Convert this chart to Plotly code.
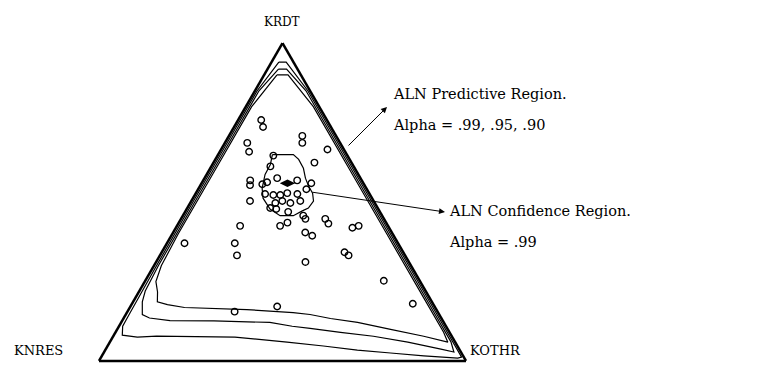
import plotly.graph_objects as go

# observed compositions (KRDT, KOTHR); KNRES = 1 - KRDT - KOTHR
krdt = [0.758, 0.736, 0.686, 0.658, 0.708, 0.686, 0.665, 0.624, 0.646, 0.612,
        0.568, 0.553, 0.556, 0.562, 0.575, 0.568, 0.559, 0.540, 0.525, 0.522,
        0.522, 0.528, 0.525, 0.497, 0.503, 0.497, 0.503, 0.503, 0.481, 0.478,
        0.469, 0.457, 0.447, 0.447, 0.432, 0.425, 0.425, 0.435, 0.404, 0.394,
        0.419, 0.425, 0.370, 0.370, 0.332, 0.342, 0.332, 0.311, 0.252, 0.180,
        0.155, 0.171]
kothr = [0.063, 0.079, 0.061, 0.080, 0.200, 0.211, 0.290, 0.275, 0.152, 0.161,
         0.128, 0.135, 0.167, 0.177, 0.198, 0.256, 0.299, 0.295, 0.190, 0.214,
         0.233, 0.249, 0.278, 0.232, 0.248, 0.273, 0.297, 0.160, 0.226, 0.244,
         0.281, 0.328, 0.339, 0.393, 0.409, 0.172, 0.281, 0.296, 0.360, 0.384,
         0.481, 0.495, 0.048, 0.185, 0.210, 0.498, 0.514, 0.407, 0.650, 0.765,
         0.292, 0.400]

centre_krdt = [0.559]
centre_kothr = [0.234]

# ALN predictive regions, alpha = .99, .95, .90
pred99_krdt = [0.94, 0.85, 0.70, 0.50, 0.30, 0.15, 0.109, 0.081, 0.075, 0.078,
               0.075, 0.059, 0.047, 0.034, 0.025, 0.016, 0.009, 0.012, 0.15, 0.30,
               0.50, 0.70, 0.85, 0.94, 0.94]
pred99_kothr = [0.020, 0.006, 0.006, 0.006, 0.007, 0.009, 0.010, 0.023, 0.067, 0.118,
                0.333, 0.483, 0.588, 0.687, 0.782, 0.877, 0.973, 0.982, 0.844, 0.694,
                0.494, 0.294, 0.144, 0.040, 0.020]

pred95_krdt = [0.918, 0.85, 0.70, 0.50, 0.30, 0.22, 0.186, 0.146, 0.135, 0.127,
               0.126, 0.121, 0.109, 0.1025, 0.090, 0.0776, 0.059, 0.0373, 0.028, 0.06,
               0.15, 0.30, 0.50, 0.70, 0.85, 0.918, 0.918]
pred95_kothr = [0.030, 0.011, 0.011, 0.011, 0.012, 0.016, 0.025, 0.045, 0.070, 0.130,
                0.250, 0.405, 0.472, 0.524, 0.613, 0.709, 0.812, 0.913, 0.953, 0.929,
                0.839, 0.689, 0.489, 0.289, 0.139, 0.052, 0.030]

pred90_krdt = [0.90, 0.80, 0.60, 0.40, 0.30, 0.25, 0.217, 0.186, 0.177, 0.168,
               0.1615, 0.152, 0.146, 0.1335, 0.121, 0.099, 0.0776, 0.059, 0.09, 0.20,
               0.40, 0.60, 0.80, 0.90, 0.90]
pred90_kothr = [0.035, 0.016, 0.016, 0.016, 0.020, 0.030, 0.051, 0.066, 0.098, 0.149,
                0.322, 0.453, 0.502, 0.564, 0.644, 0.745, 0.846, 0.921, 0.894, 0.784,
                0.584, 0.384, 0.184, 0.065, 0.035]

# ALN confidence region, alpha = .99
conf_krdt = [0.649, 0.649, 0.634, 0.606, 0.575, 0.550, 0.528, 0.503, 0.481, 0.472,
             0.457, 0.457, 0.478, 0.512, 0.543, 0.587, 0.618, 0.649]
conf_kothr = [0.148, 0.205, 0.227, 0.254, 0.275, 0.296, 0.318, 0.333, 0.330, 0.318,
              0.301, 0.265, 0.227, 0.191, 0.173, 0.159, 0.158, 0.148]

W, H = 760, 365
SERIF = "DejaVu Serif, Liberation Serif, serif"


def px(x):
    return x / W


def py(y):
    return (H - y) / H


fig = go.Figure()

for a_vals, c_vals in [(pred99_krdt, pred99_kothr), (pred95_krdt, pred95_kothr),
                       (pred90_krdt, pred90_kothr), (conf_krdt, conf_kothr)]:
    fig.add_trace(go.Scatterternary(
        a=a_vals, c=c_vals, mode="lines",
        line=dict(color="black", width=1.2),
        hoverinfo="skip"
    ))

fig.add_trace(go.Scatterternary(
    a=krdt, c=kothr, mode="markers",
    marker=dict(symbol="circle-open", size=6.5, color="black", line=dict(width=1.4))
))
fig.add_trace(go.Scatterternary(
    a=centre_krdt, c=centre_kothr, mode="markers",
    marker=dict(symbol="diamond-wide", size=11, color="black")
))

axis_style = dict(showticklabels=False, ticks="", showgrid=False,
                  linecolor="black", linewidth=2.5, title=dict(text=""))

fig.update_layout(
    width=W, height=H,
    margin=dict(l=0, r=0, t=0, b=0),
    paper_bgcolor="white",
    showlegend=False,
    ternary=dict(
        sum=1,
        bgcolor="white",
        domain=dict(x=[px(99), px(466)], y=[py(362), py(42)]),
        aaxis=axis_style, baxis=axis_style, caxis=axis_style,
    ),
    font=dict(family=SERIF, color="black"),
)

labels = [
    ("KRDT", 282, 22, "center", 12),
    ("KNRES", 12, 350, "left", 13),
    ("KOTHR", 468, 350, "left", 13),
]
for txt, x, y, anchor, size in labels:
    fig.add_annotation(x=px(x), y=py(y), xref="paper", yref="paper", text=txt,
                       showarrow=False, xanchor=anchor, yanchor="middle",
                       font=dict(size=size, family=SERIF))

notes = [
    ("ALN Predictive Region.", 391, 94),
    ("Alpha = .99, .95, .90", 391, 125),
    ("ALN Confidence Region.", 447, 211),
    ("Alpha = .99", 447, 242),
]
for txt, x, y in notes:
    fig.add_annotation(x=px(x), y=py(y), xref="paper", yref="paper", text=txt,
                       showarrow=False, xanchor="left", yanchor="middle",
                       font=dict(size=14.5, family=SERIF))

# arrows: (tail x, tail y, tip x, tip y)
arrows = [(347, 147, 387, 107), (311, 192, 445, 212)]
for x0, y0, x1, y1 in arrows:
    fig.add_annotation(x=px(x1), y=py(y1), xref="paper", yref="paper", text="",
                       showarrow=True, ax=x0 - x1, ay=y0 - y1,
                       arrowhead=2, arrowsize=1.2, arrowwidth=1, arrowcolor="black",
                       standoff=0, startstandoff=0)

fig.write_html("out.html", config={"displayModeBar": False},
               post_script="document.body.style.margin='0';document.body.style.overflow='hidden';")
